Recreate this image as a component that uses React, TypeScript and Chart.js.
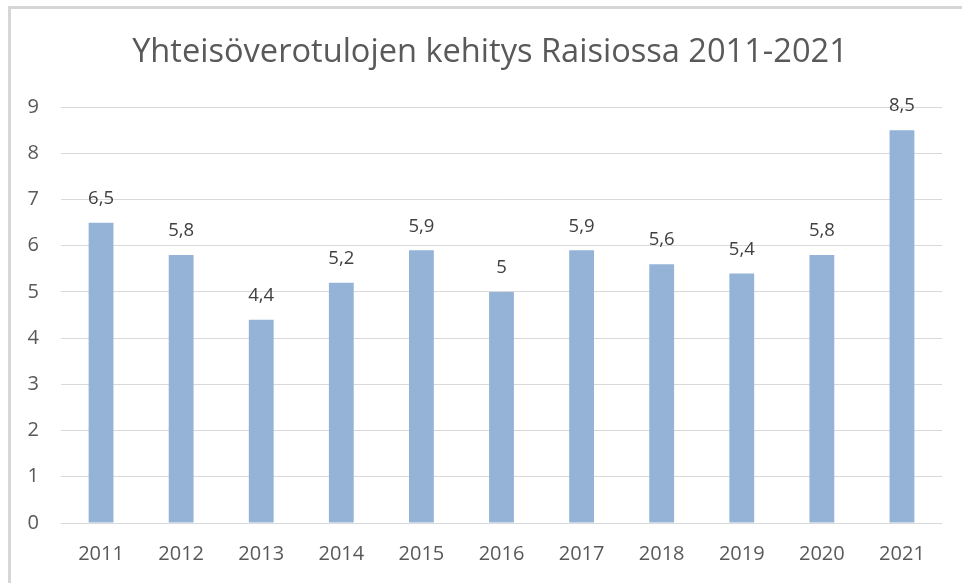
import React, { useEffect, useRef } from "react";
import { Chart, registerables } from "chart.js";

Chart.register(...registerables);

const titleText = "Yhteisöverotulojen kehitys Raisiossa 2011-2021";
const years = ["2011", "2012", "2013", "2014", "2015", "2016", "2017", "2018", "2019", "2020", "2021"];
const revenue = [6.5, 5.8, 4.4, 5.2, 5.9, 5, 5.9, 5.6, 5.4, 5.8, 8.5];
const yMin = 0;
const yMax = 9;

const FONT = "'Open Sans', 'Noto Sans', sans-serif";
const TEXT = "#595959";

const dataLabels = {
  id: "dataLabels",
  afterDatasetsDraw(chart: any) {
    const ctx = chart.ctx;
    const meta = chart.getDatasetMeta(0);
    const ds = chart.data.datasets[0];
    ctx.save();
    ctx.font = `18.5px ${FONT}`;
    ctx.fillStyle = "#404040";
    ctx.textAlign = "center";
    ctx.textBaseline = "middle";
    meta.data.forEach((bar: any, i: number) => {
      const v = ds.data[i] as number;
      const label = String(v).replace(".", ",");
      ctx.fillText(label, bar.x, bar.y - 24);
    });
    ctx.restore();
  },
};

export default function App() {
  const ref = useRef<HTMLCanvasElement>(null);
  useEffect(() => {
    document.body.style.margin = "0";
    const chart = new Chart(ref.current!, {
      type: "bar",
      data: {
        labels: years,
        datasets: [
          {
            data: revenue,
            backgroundColor: "#95b3d7",
            barPercentage: 0.31,
            categoryPercentage: 1,
          },
        ],
      },
      options: {
        animation: false,
        responsive: false,
        maintainAspectRatio: false,
        layout: { padding: { left: 19, right: 1, top: 0, bottom: 0 } },
        plugins: {
          legend: { display: false },
          tooltip: { enabled: false },
          title: {
            display: true,
            text: titleText,
            color: TEXT,
            font: { family: FONT, size: 32.6, weight: "normal" },
            padding: { top: 33, bottom: 35 },
          },
        },
        scales: {
          x: {
            grid: { display: false, drawTicks: false },
            border: { display: false },
            ticks: { color: TEXT, font: { family: FONT, size: 20 }, padding: 19 },
            afterFit: (s: any) => {
              s.height = 60;
            },
          },
          y: {
            min: yMin,
            max: yMax,
            grid: { color: "#d9d9d9", lineWidth: 1, drawTicks: false },
            border: { display: false },
            ticks: { stepSize: 1, color: TEXT, font: { family: FONT, size: 20 }, padding: 22 },
            afterFit: (s: any) => {
              s.width = 42;
            },
          },
          ySpacer: {
            type: "linear",
            position: "right",
            display: true,
            grid: { display: false, drawTicks: false },
            border: { display: false },
            ticks: { display: false },
            afterFit: (s: any) => {
              s.width = 19;
            },
          },
        },
      },
      plugins: [dataLabels],
    });
    return () => chart.destroy();
  }, []);
  return (
    <div style={{ position: "relative", width: 962, height: 583, background: "#fff" }}>
      <canvas ref={ref} width={962} height={583} style={{ position: "absolute", left: 0, top: 0 }} />
      <div
        style={{
          position: "absolute",
          left: 8,
          top: 6,
          width: 954,
          height: 577,
          borderTop: "3px solid #d6d6d6",
          borderLeft: "3px solid #d6d6d6",
          boxSizing: "border-box",
          pointerEvents: "none",
        }}
      />
    </div>
  );
}
